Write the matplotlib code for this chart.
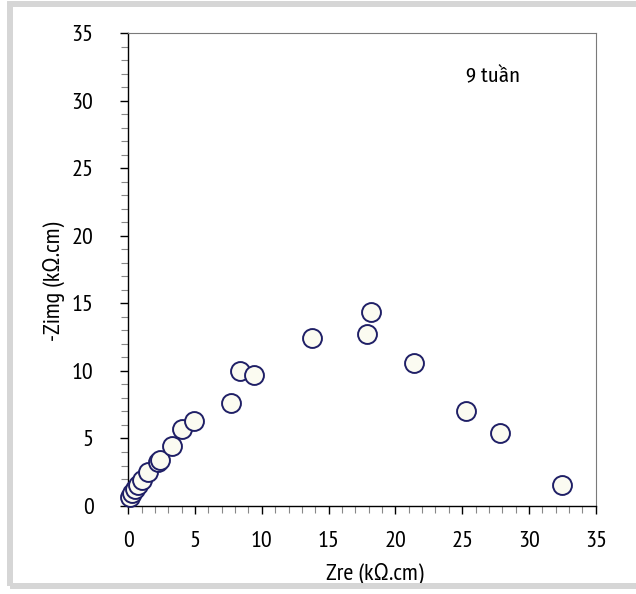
import matplotlib
matplotlib.use("Agg")
import matplotlib.pyplot as plt
from matplotlib.patches import Rectangle
from matplotlib.ticker import MultipleLocator

plt.rcParams['font.family'] = ['PT Sans Narrow', 'Fira Sans Condensed', 'DejaVu Sans']

# donnees (kOhm.cm)
zre = [0.13, 0.3, 0.5, 0.75, 1.0, 1.5, 2.25, 2.37, 3.25, 4.0, 4.94,
       7.69, 8.36, 9.43, 13.78, 17.85, 18.2, 21.4, 25.29, 27.83, 32.5]
zimg = [0.69, 0.94, 1.23, 1.55, 1.93, 2.54, 3.28, 3.41, 4.44, 5.68, 6.32,
        7.6, 10.02, 9.70, 12.41, 12.74, 14.39, 10.61, 7.06, 5.43, 1.58]
ticks = [0, 5, 10, 15, 20, 25, 30, 35]
label_x = "Zre (kΩ.cm)"
label_y = "-Zimg (kΩ.cm)"
note = "9 tuần"

fig = plt.figure(figsize=(6.36, 5.94), dpi=100)

# cadre gris autour de la figure
fig.patches.append(Rectangle((9.5 / 636, 8 / 594), 1.2, 582 / 594,
                             transform=fig.transFigure, fill=False,
                             edgecolor='#d6d6d6', linewidth=4.3))

ax = fig.add_axes([0.2017, 0.1481, 0.735, 0.7958])
ax.scatter(zre, zimg, s=185, facecolor='#fbfbf1', edgecolor='#1f1f66',
           linewidth=1.4, zorder=3, clip_on=False)

ax.set_xlim(0, 35)
ax.set_ylim(0, 35)
ax.set_xticks(ticks)
ax.set_yticks(ticks)
ax.xaxis.set_minor_locator(MultipleLocator(1))
ax.yaxis.set_minor_locator(MultipleLocator(1))
ax.tick_params(which='major', direction='out', length=6, width=1, color='black',
               labelsize=17.5)
ax.tick_params(which='minor', direction='out', length=5, width=0.8, color='#888888')
ax.tick_params(axis='x', which='major', pad=12)
ax.tick_params(axis='y', which='major', pad=19)

for s in ['top', 'right']:
    ax.spines[s].set_color('#7a7a7a')
    ax.spines[s].set_linewidth(0.8)
for s in ['left', 'bottom']:
    ax.spines[s].set_color('black')
    ax.spines[s].set_linewidth(1)

ax.set_xlabel(label_x, fontsize=17.5)
ax.set_ylabel(label_y, fontsize=17.5)
ax.xaxis.set_label_coords(0.527, -0.12)
ax.yaxis.set_label_coords(-0.135, 0.475)

ax.text(27.3, 31.8, note, fontsize=15, ha='center', va='center',
        family=['Fira Sans Condensed', 'DejaVu Sans'])

fig.savefig("out.png", dpi=100)
